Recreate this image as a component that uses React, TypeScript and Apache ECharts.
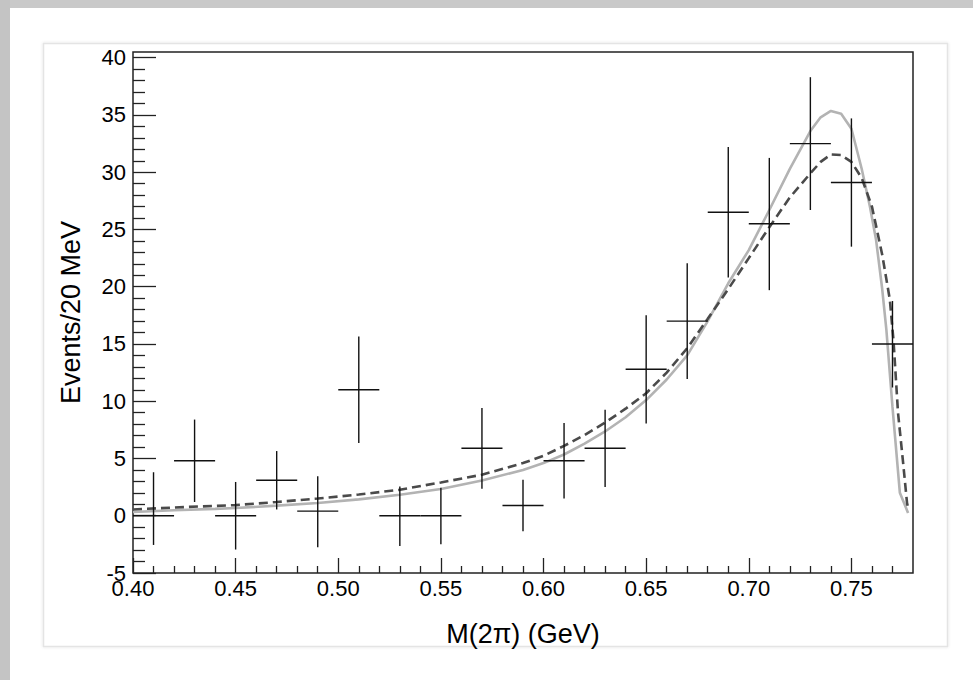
import React, { useEffect, useRef } from "react";
import * as echarts from "echarts";

// Data
const binCenters = [0.41, 0.43, 0.45, 0.47, 0.49, 0.51, 0.53, 0.55, 0.57, 0.59, 0.61, 0.63, 0.65, 0.67, 0.69, 0.71, 0.73, 0.75, 0.77];
const counts = [0, 4.8, 0, 3.1, 0.4, 11.0, 0, 0, 5.9, 0.9, 4.8, 5.9, 12.8, 17.0, 26.5, 25.5, 32.5, 29.1, 15.0];
const errUp = [3.8, 3.6, 2.95, 2.55, 3.05, 4.65, 2.55, 2.45, 3.5, 2.25, 3.3, 3.35, 4.7, 5.05, 5.7, 5.75, 5.8, 5.6, 3.75];
const errDown = [2.55, 3.6, 2.95, 2.55, 3.15, 4.65, 2.65, 2.5, 3.55, 2.25, 3.3, 3.4, 4.75, 5.05, 5.7, 5.8, 5.8, 5.6, 3.8];
const binHalfWidth = 0.01;

const solidX = [0.4, 0.42, 0.44, 0.45, 0.47, 0.49, 0.51, 0.53, 0.55, 0.57, 0.59, 0.6, 0.61, 0.62, 0.63, 0.64, 0.65, 0.66, 0.67, 0.68, 0.69, 0.7, 0.71, 0.72, 0.73, 0.735, 0.74, 0.745, 0.75, 0.755, 0.759, 0.762, 0.765, 0.767, 0.77, 0.7736, 0.7776];
const solidY = [0.33, 0.48, 0.6, 0.67, 0.88, 1.12, 1.43, 1.83, 2.33, 3.08, 4.0, 4.6, 5.35, 6.3, 7.36, 8.6, 10.1, 11.9, 14.0, 17.0, 20.3, 23.2, 26.7, 30.3, 33.6, 34.8, 35.35, 35.1, 33.8, 30.3, 27.0, 24.1, 19.8, 16.3, 9.5, 2.0, 0.25];

const dashedX = [0.4, 0.42, 0.45, 0.47, 0.49, 0.51, 0.53, 0.55, 0.57, 0.59, 0.6, 0.61, 0.62, 0.63, 0.64, 0.65, 0.66, 0.67, 0.68, 0.69, 0.7, 0.71, 0.72, 0.73, 0.735, 0.74, 0.745, 0.75, 0.755, 0.76, 0.765, 0.7687, 0.7705, 0.7727, 0.7752, 0.7771, 0.7776];
const dashedY = [0.55, 0.72, 0.93, 1.2, 1.5, 1.85, 2.27, 2.91, 3.58, 4.6, 5.24, 6.1, 7.05, 8.14, 9.35, 10.7, 12.5, 14.63, 17.2, 19.8, 22.5, 25.2, 27.8, 29.9, 30.9, 31.55, 31.5, 30.9, 29.5, 27.0, 22.8, 18.9, 15.3, 9.0, 4.6, 1.1, 0.7];

const xMajorTicks = [0.4, 0.45, 0.5, 0.55, 0.6, 0.65, 0.7, 0.75];
const xMinorTicks = [0.41, 0.42, 0.43, 0.44, 0.46, 0.47, 0.48, 0.49, 0.51, 0.52, 0.53, 0.54, 0.56, 0.57, 0.58, 0.59, 0.61, 0.62, 0.63, 0.64, 0.66, 0.67, 0.68, 0.69, 0.71, 0.72, 0.73, 0.74, 0.76, 0.77];
const yMajorTicks = [-5, 0, 5, 10, 15, 20, 25, 30, 35, 40];
const yMinorTicks = [-4, -3, -2, -1, 1, 2, 3, 4, 6, 7, 8, 9, 11, 12, 13, 14, 16, 17, 18, 19, 21, 22, 23, 24, 26, 27, 28, 29, 31, 32, 33, 34, 36, 37, 38, 39];

const xTitle = "M(2π) (GeV)";
const yTitle = "Events/20 MeV";

const FONT = "Liberation Sans";

export default function App() {
  const ref = useRef<HTMLDivElement>(null);
  useEffect(() => {
    if (!ref.current) return;
    const chart = echarts.init(ref.current, null, { renderer: "svg" });
    const gridL = 133, gridT = 52, gridR = 913, gridB = 573;
    const xMin = 0.4, xMax = 0.78, yMin = -5, yMax = 40.5;

    const errData = binCenters.map((x, i) => [x, counts[i], counts[i] - errDown[i], counts[i] + errUp[i]]);

    const axisCommonX = { type: "value", min: xMin, max: xMax, gridIndex: 0, position: "bottom", splitLine: { show: false }, axisLine: { show: false, onZero: false } };
    const axisCommonY = { type: "value", min: yMin, max: yMax, gridIndex: 0, position: "left", splitLine: { show: false }, axisLine: { show: false, onZero: false } };

    chart.setOption({
      animation: false,
      backgroundColor: "#ffffff",
      graphic: [
        { type: "rect", shape: { x: 0, y: 0, width: 973, height: 8 }, style: { fill: "#c9c9c9" }, silent: true, z: -10 },
        { type: "rect", shape: { x: 0, y: 0, width: 10, height: 680 }, style: { fill: "#c4c4c4" }, silent: true, z: -10 },
        { type: "rect", shape: { x: 43.5, y: 43.5, width: 904, height: 603 }, style: { fill: "#ffffff", stroke: "#e4e4e4", lineWidth: 1.5, shadowBlur: 3, shadowColor: "rgba(0,0,0,0.12)" }, silent: true, z: -9 },
        { type: "text", x: (gridL + gridR) / 2, y: 634, style: { text: xTitle, font: `27px "${FONT}"`, fill: "#000", align: "center", verticalAlign: "middle" }, z: 10 },
        { type: "text", x: 71, y: (gridT + gridB) / 2, rotation: Math.PI / 2, style: { text: yTitle, font: `27px "${FONT}"`, fill: "#000", align: "center", verticalAlign: "middle" }, z: 10 },
      ],
      grid: { left: gridL, top: gridT, width: gridR - gridL, height: gridB - gridT, show: true, borderColor: "#222", borderWidth: 1.5, backgroundColor: "transparent" },
      xAxis: [
        {
          ...axisCommonX,
          axisTick: { show: true, inside: true, length: 15, lineStyle: { color: "#222", width: 1.3 }, customValues: xMajorTicks },
          axisLabel: { show: true, customValues: xMajorTicks, formatter: (v: number) => v.toFixed(2), fontFamily: FONT, fontSize: 22, color: "#000", margin: 4 },
        },
        {
          ...axisCommonX,
          axisTick: { show: true, inside: true, length: 7, lineStyle: { color: "#222", width: 1.3 }, customValues: xMinorTicks },
          axisLabel: { show: false },
        },
      ],
      yAxis: [
        {
          ...axisCommonY,
          axisTick: { show: true, inside: true, length: 23, lineStyle: { color: "#222", width: 1.3 }, customValues: yMajorTicks },
          axisLabel: { show: true, customValues: yMajorTicks, formatter: (v: number) => String(v), fontFamily: FONT, fontSize: 22, color: "#000", margin: 7 },
        },
        {
          ...axisCommonY,
          axisTick: { show: true, inside: true, length: 12, lineStyle: { color: "#222", width: 1.3 }, customValues: yMinorTicks },
          axisLabel: { show: false },
        },
      ],
      series: [
        {
          type: "line",
          xAxisIndex: 0,
          yAxisIndex: 0,
          data: solidX.map((x, i) => [x, solidY[i]]),
          symbol: "none",
          smooth: false,
          lineStyle: { color: "#b3b3b3", width: 2.6 },
          z: 3,
        },
        {
          type: "line",
          xAxisIndex: 0,
          yAxisIndex: 0,
          data: dashedX.map((x, i) => [x, dashedY[i]]),
          symbol: "none",
          smooth: false,
          lineStyle: { color: "#4a4a4a", width: 2.6, type: [9, 5] },
          z: 3,
        },
        {
          type: "custom",
          xAxisIndex: 0,
          yAxisIndex: 0,
          clip: true,
          z: 4,
          data: errData,
          renderItem: (params: any, api: any) => {
            const x = api.value(0);
            const y = api.value(1);
            const lo = api.value(2);
            const hi = api.value(3);
            const pL = api.coord([x - binHalfWidth, y]);
            const pR = api.coord([x + binHalfWidth, y]);
            const pLo = api.coord([x, lo]);
            const pHi = api.coord([x, hi]);
            const style = { stroke: "#111", lineWidth: 1.4 };
            return {
              type: "group",
              children: [
                { type: "line", shape: { x1: pL[0], y1: pL[1], x2: pR[0], y2: pR[1] }, style },
                { type: "line", shape: { x1: pLo[0], y1: pLo[1], x2: pHi[0], y2: pHi[1] }, style },
              ],
            };
          },
        },
      ],
    });
    return () => chart.dispose();
  }, []);
  return <div ref={ref} style={{ position: "fixed", left: 0, top: 0, width: 973, height: 680 }} />;
}
